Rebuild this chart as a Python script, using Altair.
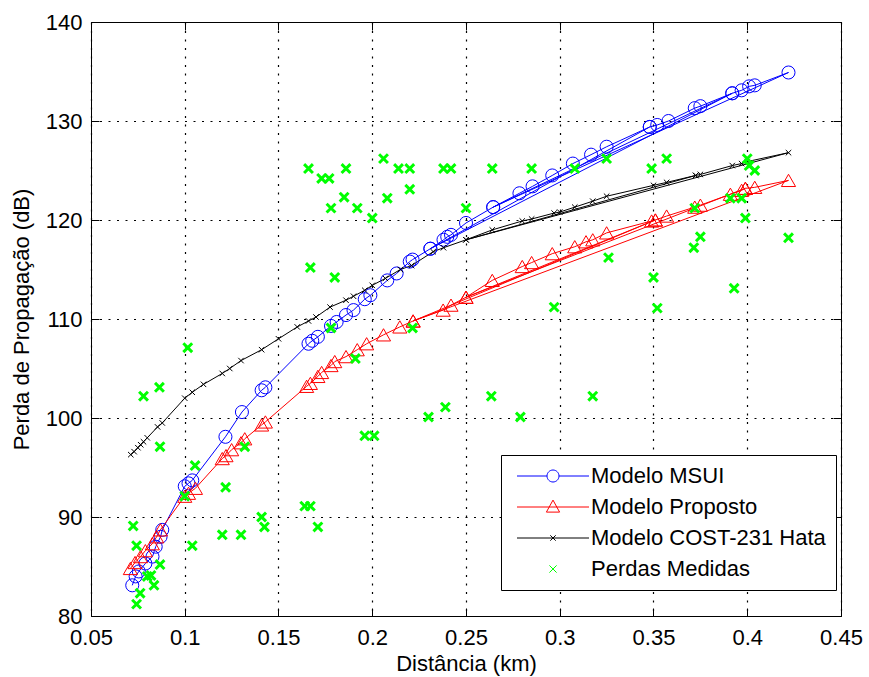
import altair as alt
import pandas as pd

# ---------------- data ----------------
names = ["Modelo MSUI", "Modelo Proposto", "Modelo COST-231 Hata", "Perdas Medidas"]
colors = ["#0000ff", "#ff0000", "#000000", "#00ff00"]

# measured losses (green x)
meas_dist = [0.0725, 0.0743, 0.0743, 0.0762, 0.080, 0.082, 0.0836, 0.0868, 0.078, 0.0865,
             0.0868, 0.100, 0.1016, 0.104, 0.1055, 0.120, 0.1218, 0.130, 0.132, 0.141,
             0.1425, 0.164, 0.167, 0.171,
             0.166, 0.167, 0.173, 0.177, 0.178, 0.178, 0.180, 0.185, 0.186, 0.191,
             0.192, 0.196, 0.200, 0.201, 0.206, 0.208, 0.214, 0.220, 0.220, 0.2215,
             0.230, 0.238, 0.239, 0.242, 0.250, 0.2635, 0.264, 0.279, 0.285, 0.297,
             0.308, 0.3176, 0.325, 0.326, 0.349, 0.350, 0.352, 0.357, 0.3715, 0.372,
             0.375, 0.391, 0.393, 0.397, 0.399, 0.400, 0.401, 0.404, 0.422]
meas_loss = [89.1, 87.1, 81.2, 82.3, 84.0, 84.1, 83.1, 85.2, 102.2, 103.1,
             97.1, 92.1, 107.1, 87.1, 95.2, 88.2, 93.0, 88.2, 97.1, 90.0,
             89.0, 91.1, 91.1, 89.0,
             125.2, 115.2, 124.2, 124.2, 121.2, 109.1, 114.2, 122.3, 125.2, 106.0,
             121.2, 98.2, 120.2, 98.2, 126.2, 122.2, 125.2, 125.2, 123.1, 109.1,
             100.1, 125.2, 101.1, 125.2, 121.2, 102.2, 125.2, 100.1, 125.2, 111.2,
             125.2, 102.2, 126.2, 116.2, 125.2, 114.2, 111.1, 126.2, 117.2, 121.2,
             118.3, 122.2, 113.1, 122.2, 120.2, 126.2, 125.5, 125.0, 118.2]

# Modelo MSUI (blue circles), ascending distance, then the return visits
msui_dist = [0.072, 0.0738, 0.0755, 0.079, 0.0828, 0.0845, 0.0871, 0.088, 0.100, 0.102,
             0.104, 0.1217, 0.1305, 0.141, 0.143, 0.166, 0.168, 0.171, 0.178, 0.181,
             0.186, 0.19, 0.196, 0.199, 0.208, 0.213, 0.22, 0.2215, 0.231, 0.238,
             0.24, 0.242, 0.25, 0.2645, 0.2785, 0.2855, 0.296, 0.307, 0.3167, 0.325,
             0.348, 0.352, 0.358, 0.372, 0.375, 0.392, 0.397, 0.401, 0.404, 0.422]
msui_loss = [83.1, 84.0, 84.5, 85.3, 86.0, 87.0, 88.0, 88.7, 93.1, 93.4,
             93.7, 98.1, 100.6, 102.8, 103.1, 107.5, 107.8, 108.2, 109.3, 109.7,
             110.4, 110.9, 112.0, 112.4, 113.9, 114.6, 115.8, 116.0, 117.1, 118.0,
             118.3, 118.5, 119.7, 121.3, 122.7, 123.4, 124.5, 125.7, 126.6, 127.4,
             129.4, 129.6, 130.0, 131.3, 131.5, 132.8, 133.1, 133.5, 133.6, 134.9]
msui_return = [0.2645, 0.392, 0.231, 0.348]

# Modelo Proposto (red triangles)
prop_dist = [0.071, 0.0735, 0.0764, 0.079, 0.0827, 0.085, 0.087, 0.100, 0.102, 0.1057,
             0.12, 0.122, 0.125, 0.13, 0.132, 0.141, 0.143, 0.165, 0.167, 0.171,
             0.173, 0.178, 0.18, 0.186, 0.192, 0.197, 0.206, 0.2147, 0.2218, 0.2378,
             0.242, 0.25, 0.264, 0.28, 0.285, 0.296, 0.308, 0.314, 0.3176, 0.325,
             0.349, 0.351, 0.357, 0.372, 0.375, 0.391, 0.397, 0.399, 0.404, 0.422]
prop_loss = [84.8, 85.4, 86.0, 86.6, 87.3, 88.0, 88.7, 92.1, 92.4, 92.9,
             95.9, 96.2, 96.8, 97.5, 97.9, 99.3, 99.6, 103.2, 103.5, 104.2,
             104.6, 105.3, 105.7, 106.2, 106.9, 107.5, 108.4, 109.2, 109.8, 110.9,
             111.4, 112.2, 113.9, 115.3, 115.7, 116.6, 117.3, 117.8, 118.0, 118.7,
             119.9, 120.0, 120.4, 121.3, 121.5, 122.6, 123.0, 123.2, 123.3, 124.0]
prop_return = [0.2218, 0.351, 0.25, 0.399]

# Modelo COST-231 Hata (black x)
cost_dist = [0.0712, 0.073, 0.075, 0.0765, 0.078, 0.08, 0.0855, 0.088, 0.1, 0.104,
             0.11, 0.12, 0.124, 0.13, 0.141, 0.15, 0.16, 0.166, 0.17, 0.1775,
             0.186, 0.19, 0.196, 0.2, 0.207, 0.215, 0.221, 0.2325, 0.238, 0.25,
             0.264, 0.28, 0.285, 0.297, 0.3, 0.308, 0.3176, 0.325, 0.35, 0.357,
             0.3725, 0.375, 0.392, 0.397, 0.40, 0.422]
cost_loss = [96.3, 96.6, 97.0, 97.3, 97.6, 98.0, 99.1, 99.5, 102.0, 102.6,
             103.4, 104.5, 105.0, 105.8, 106.9, 108.0, 109.2, 109.8, 110.2, 111.2,
             111.9, 112.3, 112.9, 113.4, 114.1, 115.0, 115.4, 116.8, 117.2, 118.0,
             119.0, 119.9, 120.1, 120.7, 120.8, 121.3, 121.9, 122.4, 123.5, 123.8,
             124.5, 124.6, 125.5, 125.7, 125.9, 126.8]
cost_return = [0.25, 0.3725]

x_ticks = [0.05, 0.1, 0.15, 0.2, 0.25, 0.3, 0.35, 0.4, 0.45]
y_ticks = [80, 90, 100, 110, 120, 130, 140]

# ---------------- tables ----------------
rows = []
for name, d, v, ret in [(names[0], msui_dist, msui_loss, msui_return),
                        (names[1], prop_dist, prop_loss, prop_return),
                        (names[2], cost_dist, cost_loss, cost_return)]:
    order = list(range(len(d))) + [d.index(r) for r in ret]
    for seq, i in enumerate(order):
        rows.append({"series": name, "dist": d[i], "loss": v[i], "seq": seq})
models = pd.DataFrame(rows)
meas = pd.DataFrame({"dist": meas_dist, "loss": meas_loss, "series": names[3]})

FONT = "Liberation Sans"
XPATH = "M-1,-1L1,1M-1,1L1,-1"
xscale = alt.Scale(domain=[0.05, 0.45], nice=False, zero=False)
yscale = alt.Scale(domain=[80, 140], nice=False, zero=False)

TICK = 8
main_x_axis = alt.Axis(orient="bottom", values=x_ticks, format="~g", offset=-TICK, tickSize=TICK,
                       tickColor="black", domain=False, grid=True, gridColor="black",
                       gridDash=[2, 6.5], gridWidth=1.2, gridOpacity=1, labelFlush=False,
                       labelFont=FONT, labelFontSize=22, labelColor="black", labelPadding=11,
                       title="Distância (km)", titleFont=FONT, titleFontSize=22,
                       titleFontWeight="normal", titleColor="black", titlePadding=5)
main_y_axis = alt.Axis(orient="left", values=y_ticks, offset=-TICK, tickSize=TICK,
                       tickColor="black", domain=False, grid=True, gridColor="black",
                       gridDash=[2, 6.5], gridWidth=1.2, gridOpacity=1, labelFlush=False,
                       labelFont=FONT, labelFontSize=22, labelColor="black", labelPadding=9,
                       title="Perda de Propagação (dB)", titleFont=FONT, titleFontSize=22,
                       titleFontWeight="normal", titleColor="black", titlePadding=12)
top_axis = alt.Axis(orient="top", values=x_ticks, offset=-TICK, tickSize=TICK, tickColor="black",
                    domain=False, grid=False, labels=False, title=None)
right_axis = alt.Axis(orient="right", values=y_ticks, offset=-TICK, tickSize=TICK, tickColor="black",
                      domain=False, grid=False, labels=False, title=None)

def X(axis=None):
    return alt.X("dist:Q", scale=xscale, axis=axis)

def Y(axis=None):
    return alt.Y("loss:Q", scale=yscale, axis=axis)

lines = alt.Chart(models).mark_line(strokeWidth=1, clip=True).encode(
    x=X(top_axis), y=Y(right_axis),
    color=alt.Color("series:N", scale=alt.Scale(domain=names[:3], range=colors[:3]), legend=None),
    order="seq:Q",
)

msui_pts = alt.Chart(models).transform_filter(alt.datum.series == names[0]).mark_point(
    shape="circle", size=170, filled=False, color=colors[0], strokeWidth=1, opacity=1
).encode(x=X(), y=Y())
prop_pts = alt.Chart(models).transform_filter(alt.datum.series == names[1]).mark_point(
    shape="triangle-up", size=200, filled=False, color=colors[1], strokeWidth=1, opacity=1
).encode(x=X(), y=Y())
cost_pts = alt.Chart(models).transform_filter(alt.datum.series == names[2]).mark_point(
    shape=XPATH, size=30, filled=False, color=colors[2], strokeWidth=1, opacity=1
).encode(x=X(), y=Y())
meas_pts = alt.Chart(meas).mark_point(
    shape=XPATH, size=78, filled=False, color=colors[3], strokeWidth=3, opacity=1
).encode(x=X(main_x_axis), y=Y(main_y_axis))

legend_paths = [
    "M-6,0H-1M1,0H6M-1,0A1,1,0,1,1,1,0A1,1,0,1,1,-1,0",
    "M-6,0H6M0,-1.15L1.1,0.85H-1.1Z",
    "M-6,0H6M-0.45,-0.45L0.45,0.45M-0.45,0.45L0.45,-0.45",
    "M-0.6,-0.6L0.6,0.6M-0.6,0.6L0.6,-0.6",
]
leg = alt.Legend(title=None)
legend_layer = alt.Chart(meas).transform_filter("datum.loss < 0").mark_point(filled=False, opacity=1).encode(
    x=X(), y=Y(),
    stroke=alt.Stroke("series:N", scale=alt.Scale(domain=names, range=colors), legend=leg),
    shape=alt.Shape("series:N", scale=alt.Scale(domain=names, range=legend_paths), legend=leg),
    strokeWidth=alt.StrokeWidth("series:N", scale=alt.Scale(domain=names, range=[1, 1, 1, 3]), legend=leg),
)

chart = alt.layer(lines, msui_pts, prop_pts, cost_pts, meas_pts, legend_layer).resolve_axis(
    x="independent", y="independent"
).properties(
    width=750, height=594,
    padding={"left": 91, "top": 22, "right": 28, "bottom": 61},
    autosize=alt.AutoSizeParams(type="none"),
    background="white",
).configure_view(
    stroke="black", strokeWidth=1
).configure_legend(
    orient="none", legendX=410, legendY=433,
    strokeColor="black", fillColor="white", padding=10, cornerRadius=0,
    labelFont=FONT, labelFontSize=22, labelColor="black", labelLimit=400,
    symbolSize=144, symbolOffset=31, labelOffset=27, rowPadding=9,
)

chart.save("out.html", embed_options={"renderer": "svg", "actions": False})
